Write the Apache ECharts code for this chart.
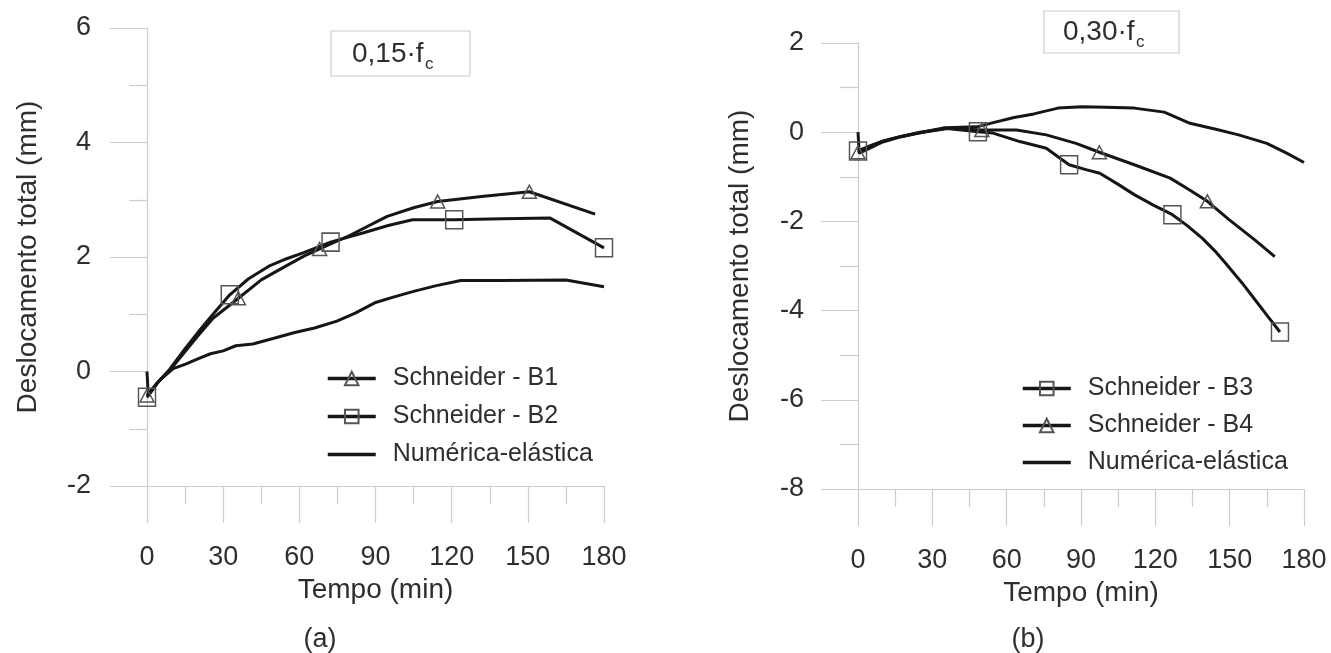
<!DOCTYPE html>
<html>
<head>
<meta charset="utf-8">
<script src="https://cdn.jsdelivr.net/npm/echarts@6/dist/echarts.min.js"></script>
<style>
html,body{margin:0;padding:0;background:#fff;}
#chart{width:1331px;height:653px;}
</style>
</head>
<body>
<div id="chart"></div>
<script>
// ---- Data (a) 0,15 fc ----
const xTicks = [0, 30, 60, 90, 120, 150, 180];
const aB1_t = [0, 4, 8.6, 15, 20, 26, 36, 45, 55, 62, 68, 80, 94.6, 105, 114.5, 132.7, 150.6, 176.5];
const aB1_v = [-0.42, -0.2, 0.0, 0.35, 0.62, 0.93, 1.28, 1.6, 1.85, 2.02, 2.14, 2.38, 2.71, 2.86, 2.97, 3.06, 3.14, 2.75];
const aB1_mk = [0, 6, 10, 14, 16];
const aB2_t = [0, 4, 8.6, 15, 20, 26, 32.6, 40, 48, 55, 62, 72.3, 85, 95, 104.6, 121, 140, 158.8, 180];
const aB2_v = [-0.45, -0.2, 0.02, 0.4, 0.68, 1.0, 1.34, 1.62, 1.84, 1.97, 2.08, 2.26, 2.42, 2.55, 2.65, 2.65, 2.67, 2.68, 2.16];
const aB2_mk = [0, 6, 11, 15, 18];
const aNum_t = [0, 0.5, 5, 10.3, 15.2, 20, 25, 30, 35, 41.7, 50, 58.2, 66, 74.8, 82, 89.7, 97, 105, 114, 123.6, 140, 165, 180];
const aNum_v = [0, -0.42, -0.15, 0.05, 0.13, 0.22, 0.31, 0.36, 0.45, 0.48, 0.58, 0.68, 0.76, 0.88, 1.02, 1.2, 1.3, 1.4, 1.5, 1.59, 1.59, 1.6, 1.48];

// ---- Data (b) 0,30 fc ----
const bB3_t = [0, 5, 10, 17, 25, 36, 48.4, 54.5, 65.3, 76, 81.4, 85.2, 92, 97.6, 105, 111.5, 119, 126.9, 133, 139, 144, 148.7, 155, 160, 165, 170.3];
const bB3_v = [-0.42, -0.3, -0.2, -0.1, -0.01, 0.08, 0.01, -0.02, -0.21, -0.36, -0.58, -0.73, -0.84, -0.92, -1.17, -1.4, -1.63, -1.85, -2.1, -2.38, -2.66, -2.96, -3.38, -3.74, -4.1, -4.48];
const bB3_mk = [0, 6, 11, 17, 25];
const bB4_t = [0, 5, 10, 17, 25, 36, 50, 64, 76, 88, 97.4, 111.5, 126, 134, 141, 150, 160, 168.2];
const bB4_v = [-0.45, -0.32, -0.2, -0.1, 0, 0.09, 0.05, 0.05, -0.06, -0.25, -0.45, -0.73, -1.03, -1.3, -1.55, -1.97, -2.41, -2.79];
const bB4_mk = [0, 6, 10, 14];
const bNum_t = [0, 0.5, 5, 10, 17.5, 27, 35, 48, 55, 63, 71, 80.7, 90.4, 100, 111.5, 123.6, 134, 144, 153.6, 165, 173, 180];
const bNum_v = [0, -0.47, -0.35, -0.22, -0.1, 0.01, 0.1, 0.12, 0.22, 0.33, 0.41, 0.54, 0.57, 0.56, 0.54, 0.45, 0.2, 0.07, -0.06, -0.25, -0.47, -0.68];

const namesA = ['Schneider - B1', 'Schneider - B2', 'Numérica-elástica'];
const namesB = ['Schneider - B3', 'Schneider - B4', 'Numérica-elástica'];
const titleA = '0,15·f';
const titleB = '0,30·f';

const FONT = '"Liberation Sans", Arial, sans-serif';
const AX = '#cdcdcd';
const TXT = '#2e2e2e';
const LINE = '#161616';

function pts(t, v, mk) {
  return t.map((x, i) => {
    const d = { value: [x, v[i]] };
    if (!mk || mk.indexOf(i) < 0) d.symbol = 'none';
    return d;
  });
}

function xAx(idx, margin, gap) {
  return {
    type: 'value', gridIndex: idx, min: 0, max: 180, interval: 30,
    axisLine: { onZero: false, lineStyle: { color: AX, width: 1.2 } },
    axisTick: { show: true, length: 37, lineStyle: { color: AX, width: 1.2 } },
    minorTick: { show: true, splitNumber: 2, length: 18, lineStyle: { color: AX, width: 1.2 } },
    splitLine: { show: false }, minorSplitLine: { show: false },
    axisLabel: { margin: margin, fontSize: 27, color: TXT, fontFamily: FONT },
    name: 'Tempo (min)', nameLocation: 'middle', nameGap: gap,
    nameTextStyle: { fontSize: 28, color: TXT, fontFamily: FONT }
  };
}
function yAx(idx, min, max, margin, gap) {
  return {
    type: 'value', gridIndex: idx, min: min, max: max, interval: 2,
    axisLine: { show: true, onZero: false, lineStyle: { color: AX, width: 1.2 } },
    axisTick: { show: true, length: 37, lineStyle: { color: AX, width: 1.2 } },
    minorTick: { show: true, splitNumber: 2, length: 18, lineStyle: { color: AX, width: 1.2 } },
    splitLine: { show: false }, minorSplitLine: { show: false },
    axisLabel: { margin: margin, fontSize: 27, color: TXT, fontFamily: FONT },
    name: 'Deslocamento total (mm)', nameLocation: 'middle', nameGap: gap, nameRotate: 90,
    nameTextStyle: { fontSize: 28, color: TXT, fontFamily: FONT }
  };
}
function ser(name, gi, t, v, mk, sym, size) {
  return {
    type: 'line', name: name, xAxisIndex: gi, yAxisIndex: gi,
    data: pts(t, v, mk),
    symbol: sym || 'none', symbolSize: size || 0, showSymbol: !!sym, showAllSymbol: true,
    smooth: false,
    lineStyle: { color: LINE, width: 3 },
    itemStyle: sym ? { color: 'rgba(255,255,255,0)', borderColor: '#555', borderWidth: 1.5 }
                   : { color: 'rgba(255,255,255,0)', borderColor: 'rgba(255,255,255,0)', borderWidth: 0 },
    emphasis: { disabled: true }, silent: true, z: 3
  };
}

const chart = echarts.init(document.getElementById('chart'), null, { renderer: 'canvas' });
chart.setOption({
  animation: false,
  backgroundColor: '#fff',
  grid: [
    { left: 147, top: 28, width: 457, height: 458 },
    { left: 858, top: 43, width: 446, height: 446 }
  ],
  xAxis: [xAx(0, 58, 90), xAx(1, 58, 90)],
  yAxis: [yAx(0, -2, 6, 56, 105), yAx(1, -8, 2, 54, 104)],
  legend: [
    { data: namesA, orient: 'vertical', left: 326, top: 366, padding: 0, itemGap: 13,
      itemWidth: 48, itemHeight: 17, selectedMode: false,
      lineStyle: { width: 3.5, color: LINE },
      textStyle: { fontSize: 25, color: TXT, fontFamily: FONT, padding: [0, 0, 0, 12] } },
    { data: namesB, orient: 'vertical', left: 1021, top: 376, padding: 0, itemGap: 12,
      itemWidth: 48, itemHeight: 17, selectedMode: false,
      lineStyle: { width: 3.5, color: LINE },
      textStyle: { fontSize: 25, color: TXT, fontFamily: FONT, padding: [0, 0, 0, 12] } }
  ],
  series: [
    ser(namesA[0], 0, aB1_t, aB1_v, aB1_mk, 'triangle', [14, 13]),
    ser(namesA[1], 0, aB2_t, aB2_v, aB2_mk, 'rect', [17, 18]),
    ser(namesA[2], 0, aNum_t, aNum_v, null, null, 0),
    ser(namesB[0], 1, bB3_t, bB3_v, bB3_mk, 'rect', [17, 18]),
    ser(namesB[1], 1, bB4_t, bB4_v, bB4_mk, 'triangle', [14, 13]),
    ser(namesB[2], 1, bNum_t, bNum_v, null, null, 0)
  ],
  graphic: [
    { type: 'rect', shape: { x: 331, y: 31, width: 139, height: 45 }, style: { fill: '#fff', stroke: '#cccccc', lineWidth: 1.2 }, z: 10 },
    { type: 'text', x: 352, y: 54, style: { text: titleA, fontSize: 28, fill: TXT, fontFamily: FONT, verticalAlign: 'middle' }, z: 11 },
    { type: 'text', x: 425, y: 64, style: { text: 'c', fontSize: 17, fill: TXT, fontFamily: FONT, verticalAlign: 'middle' }, z: 11 },
    { type: 'rect', shape: { x: 1044, y: 11, width: 135, height: 42 }, style: { fill: '#fff', stroke: '#cccccc', lineWidth: 1.2 }, z: 10 },
    { type: 'text', x: 1063, y: 32, style: { text: titleB, fontSize: 28, fill: TXT, fontFamily: FONT, verticalAlign: 'middle' }, z: 11 },
    { type: 'text', x: 1136, y: 42, style: { text: 'c', fontSize: 17, fill: TXT, fontFamily: FONT, verticalAlign: 'middle' }, z: 11 },
    { type: 'text', x: 320, y: 640, style: { text: '(a)', fontSize: 27, fill: TXT, fontFamily: FONT, align: 'center', verticalAlign: 'middle' } },
    { type: 'text', x: 1028, y: 640, style: { text: '(b)', fontSize: 27, fill: TXT, fontFamily: FONT, align: 'center', verticalAlign: 'middle' } }
  ]
});
</script>
</body>
</html>
